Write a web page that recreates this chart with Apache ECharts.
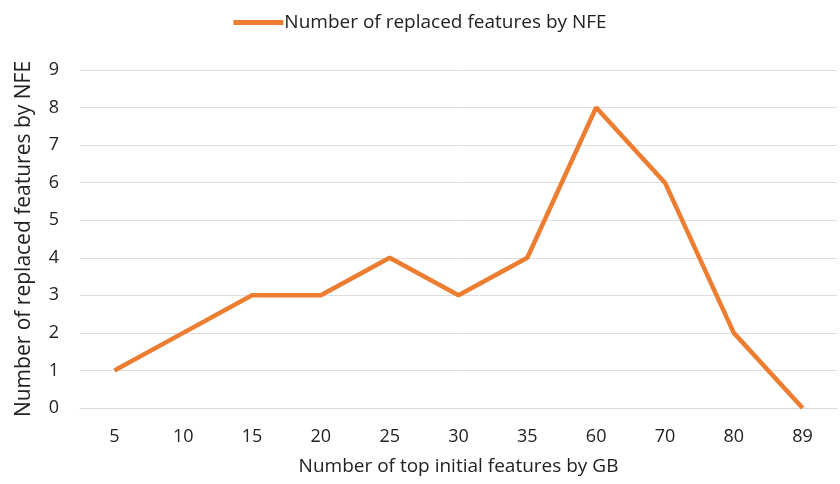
<!DOCTYPE html>
<html>
<head>
<meta charset="utf-8">
<script src="https://cdn.jsdelivr.net/npm/echarts@6/dist/echarts.min.js"></script>
<style>
html, body { margin: 0; padding: 0; background: #fff; }
#chart { width: 840px; height: 484px; }
</style>
</head>
<body>
<div id="chart"></div>
<script>
// 横轴类别（GB 选出的初始特征数）
var categories = ['5', '10', '15', '20', '25', '30', '35', '60', '70', '80', '89'];
// NFE 替换的特征数
var replacedCounts = [1, 2, 3, 3, 4, 3, 4, 8, 6, 2, 0];
var seriesName = 'Number of replaced features by NFE';

var chart = echarts.init(document.getElementById('chart'));
chart.setOption({
    animation: false,
    textStyle: { fontFamily: 'Open Sans' },
    legend: {
        top: 8,
        left: 'center',
        itemWidth: 50,
        itemHeight: 12,
        itemGap: 4,
        data: [{ name: seriesName, icon: 'path://M0,3.5 L50,3.5 L50,8.5 L0,8.5 Z' }],
        textStyle: { fontSize: 19, color: '#222', padding: [0, 0, 0, -4] }
    },
    grid: {
        left: 80,
        right: 3,
        top: 70,
        bottom: 76
    },
    xAxis: {
        type: 'category',
        data: categories,
        boundaryGap: true,
        name: 'Number of top initial features by GB',
        nameLocation: 'middle',
        nameGap: 49,
        nameTextStyle: { fontSize: 19, color: '#222' },
        axisLine: { show: true, lineStyle: { color: '#d9d9d9', width: 1 } },
        axisTick: { show: false },
        axisLabel: { fontSize: 18, color: '#222', margin: 20 }
    },
    yAxis: {
        type: 'value',
        min: 0,
        max: 9,
        interval: 1,
        name: 'Number of replaced features by NFE',
        nameLocation: 'middle',
        nameGap: 45,
        nameTextStyle: { fontSize: 21, color: '#222' },
        axisLine: { show: false },
        axisTick: { show: false },
        axisLabel: { fontSize: 18, color: '#222', margin: 21 },
        splitLine: { lineStyle: { color: '#dedede', width: 1 } }
    },
    series: [{
        name: seriesName,
        type: 'line',
        data: replacedCounts,
        symbol: 'none',
        lineStyle: { color: '#ED7D31', width: 4.5 },
        itemStyle: { color: '#ED7D31' }
    }]
});
</script>
</body>
</html>
